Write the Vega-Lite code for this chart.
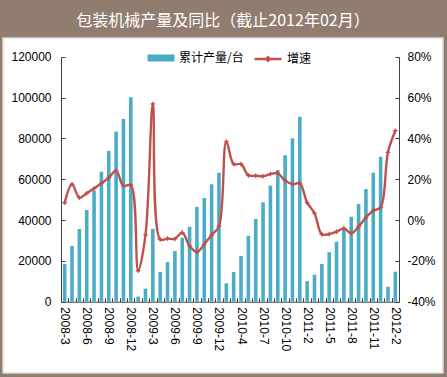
{
  "$schema": "https://vega.github.io/schema/vega-lite/v6.json",
  "autosize": "none",
  "width": 440,
  "height": 335,
  "padding": {"left": 3, "top": 38, "right": 4, "bottom": 4},
  "background": "#917d6f",
  "view": {"fill": "white", "stroke": "#d9d9d9", "strokeWidth": 1.5},
  "title": {
    "text": "包装机械产量及同比（截止2012年02月）",
    "color": "white",
    "fontSize": 16,
    "font": "Noto Sans CJK SC",
    "fontWeight": "normal",
    "anchor": "middle",
    "frame": "group",
    "baseline": "middle",
    "offset": 1
  },
  "config": {
    "axis": {
      "grid": false,
      "domainColor": "#404040",
      "tickColor": "#404040",
      "labelFont": "Liberation Sans",
      "labelFontSize": 12,
      "labelColor": "#000000",
      "title": null
    }
  },
  "data": {
    "values": [
      {"m": "2008-3", "prod": 18500, "g": 8.5},
      {"m": "2008-4", "prod": 27300, "g": 17.5},
      {"m": "2008-5", "prod": 35600, "g": 10.9},
      {"m": "2008-6", "prod": 44900, "g": 13.1},
      {"m": "2008-7", "prod": 54400, "g": 15.5},
      {"m": "2008-8", "prod": 63700, "g": 18.0},
      {"m": "2008-9", "prod": 73800, "g": 20.7},
      {"m": "2008-10", "prod": 83300, "g": 24.2},
      {"m": "2008-11", "prod": 89500, "g": 16.7},
      {"m": "2008-12", "prod": 100200, "g": 17.1},
      {"m": "2009-1", "prod": 2500, "g": -24.8},
      {"m": "2009-2", "prod": 6400, "g": -7.3},
      {"m": "2009-3", "prod": 35700, "g": 56.8},
      {"m": "2009-4", "prod": 14500, "g": -9.5},
      {"m": "2009-5", "prod": 19400, "g": -9.1},
      {"m": "2009-6", "prod": 24800, "g": -9.2},
      {"m": "2009-7", "prod": 31300, "g": -6.2},
      {"m": "2009-8", "prod": 36700, "g": -12.7},
      {"m": "2009-9", "prod": 46400, "g": -15.7},
      {"m": "2009-10", "prod": 50800, "g": -11.8},
      {"m": "2009-11", "prod": 57500, "g": -7.3},
      {"m": "2009-12", "prod": 63200, "g": -3.1},
      {"m": "2010-2", "prod": 9000, "g": 38.4},
      {"m": "2010-3", "prod": 14500, "g": 27.4},
      {"m": "2010-4", "prod": 22400, "g": 27.4},
      {"m": "2010-5", "prod": 32300, "g": 21.9},
      {"m": "2010-6", "prod": 40500, "g": 21.7},
      {"m": "2010-7", "prod": 48700, "g": 21.5},
      {"m": "2010-8", "prod": 56800, "g": 22.5},
      {"m": "2010-9", "prod": 64500, "g": 22.9},
      {"m": "2010-10", "prod": 71700, "g": 19.3},
      {"m": "2010-11", "prod": 80000, "g": 17.6},
      {"m": "2010-12", "prod": 90600, "g": 18.0},
      {"m": "2011-2", "prod": 10100, "g": 8.5},
      {"m": "2011-3", "prod": 13200, "g": 3.3},
      {"m": "2011-4", "prod": 18500, "g": -7.0},
      {"m": "2011-5", "prod": 24200, "g": -6.9},
      {"m": "2011-6", "prod": 29400, "g": -5.7},
      {"m": "2011-7", "prod": 35100, "g": -4.1},
      {"m": "2011-8", "prod": 41600, "g": -6.5},
      {"m": "2011-9", "prod": 47900, "g": -3.3},
      {"m": "2011-10", "prod": 55200, "g": 1.3},
      {"m": "2011-11", "prod": 63200, "g": 4.6},
      {"m": "2011-12", "prod": 71000, "g": 6.2},
      {"m": "2012-1", "prod": 7300, "g": 33.2},
      {"m": "2012-2", "prod": 14700, "g": 43.7}
    ]
  },
  "encoding": {
    "x": {
      "field": "m",
      "type": "ordinal",
      "sort": null,
      "scale": {"range": [58, 396], "paddingInner": 0, "paddingOuter": 0},
      "axis": {
        "labelAngle": 90,
        "labelOverlap": false,
        "labelExpr": "indexof(['2008-3','2008-6','2008-9','2008-12','2009-3','2009-6','2009-9','2009-12','2010-4','2010-7','2010-10','2011-2','2011-5','2011-8','2011-11','2012-2'], datum.value) >= 0 ? datum.value : ''",
        "tickBand": "extent",
        "tickSize": -4,
        "labelPadding": 9,
        "offset": -71.3
      }
    }
  },
  "layer": [
    {
      "mark": {"type": "bar", "size": 3.6},
      "encoding": {
        "y": {
          "field": "prod",
          "type": "quantitative",
          "scale": {"domain": [0, 120000], "range": [263.7, 18.7], "nice": false, "zero": true},
          "axis": {
            "orient": "left",
            "values": [0, 20000, 40000, 60000, 80000, 100000, 120000],
            "format": "d",
            "tickSize": -4,
            "labelPadding": 14,
            "offset": -58
          }
        },
        "fill": {
          "datum": "累计产量/台",
          "scale": {"domain": ["累计产量/台"], "range": ["#4bacc6"]},
          "legend": {
            "orient": "none",
            "legendX": 144,
            "legendY": 6,
            "title": null,
            "padding": 0,
            "symbolType": "M-1,-0.26H1V0.26H-1Z",
            "symbolSize": 730,
            "symbolStrokeWidth": 0,
            "labelFont": "Noto Sans CJK SC",
            "labelFontSize": 12,
            "labelColor": "#000000"
          }
        }
      }
    },
    {
      "mark": {"type": "line", "interpolate": "catmull-rom", "strokeWidth": 2.4},
      "encoding": {
        "y": {
          "field": "g",
          "type": "quantitative",
          "scale": {"domain": [-40, 80], "range": [263.7, 18.7], "nice": false},
          "axis": {
            "orient": "right",
            "values": [-40, -20, 0, 20, 40, 60, 80],
            "labelExpr": "datum.value + '%'",
            "tickSize": -4,
            "labelPadding": 12,
            "offset": -44
          }
        },
        "stroke": {
          "datum": "增速",
          "scale": {"domain": ["增速"], "range": ["#c0504d"]},
          "legend": {
            "orient": "none",
            "legendX": 250,
            "legendY": 6,
            "title": null,
            "padding": 0,
            "symbolType": "M-1,0H1M-0.13,0L0,-0.13L0.13,0L0,0.13Z",
            "symbolSize": 730,
            "symbolStrokeWidth": 2.4,
            "symbolFillColor": "#c0504d",
            "labelFont": "Noto Sans CJK SC",
            "labelFontSize": 12,
            "labelColor": "#000000"
          }
        }
      }
    },
    {
      "mark": {
        "type": "point",
        "filled": true,
        "color": "#c0504d",
        "size": 32,
        "opacity": 1,
        "shape": "M0,-1L0.35,-0.35L1,0L0.35,0.35L0,1L-0.35,0.35L-1,0L-0.35,-0.35Z"
      },
      "encoding": {
        "y": {"field": "g", "type": "quantitative", "axis": null, "scale": {"domain": [-40, 80], "range": [263.7, 18.7], "nice": false}}
      }
    }
  ],
  "resolve": {"scale": {"y": "independent", "fill": "independent", "stroke": "independent"}}
}
